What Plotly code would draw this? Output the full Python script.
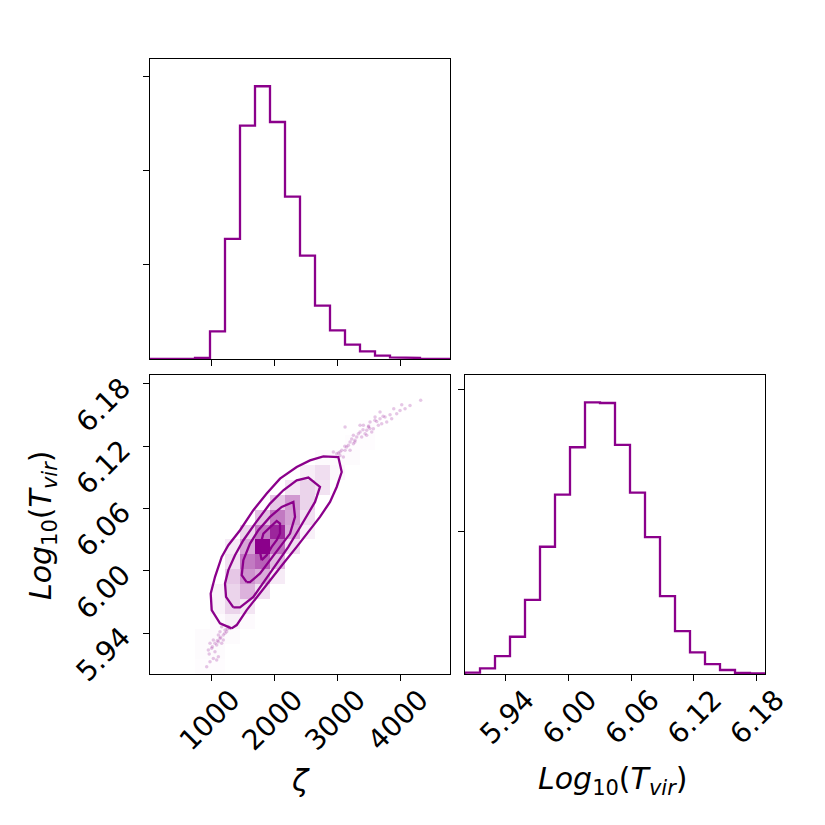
import numpy as np
import plotly.graph_objects as go

# ---------------- data ----------------
ZETA_RANGE = [17, 4796]
TVIR_RANGE = [5.9007, 6.1886]
N_BINS = 20

ZETA_COUNTS = [0, 0, 0, 11, 294, 1277, 2482, 2901, 2521, 1727,
               1099, 567, 305, 152, 82, 35, 18, 11, 4, 1]
TVIR_COUNTS = [9, 40, 126, 262, 522, 895, 1262, 1595, 1911, 1906,
               1611, 1276, 963, 548, 302, 152, 70, 28, 7, 5]

ZETA_TICKS = [1000, 2000, 3000, 4000]
TVIR_TICKS = [5.94, 6.00, 6.06, 6.12, 6.18]
ZETA_COUNT_TICKS = [1000, 2000, 3000]
TVIR_COUNT_TICKS = [1000, 2000]
ZETA_COUNT_MAX = 3191
TVIR_COUNT_MAX = 2103

# 2D density cells: (zeta bin, tvir bin, relative density)
DENSITY_CELLS = [
    (3, 0, 0.012), (4, 0, 0.012), (3, 1, 0.015), (4, 1, 0.015), (3, 2, 0.015),
    (4, 2, 0.02), (5, 2, 0.015), (4, 3, 0.02), (5, 3, 0.06), (6, 3, 0.02),
    (4, 4, 0.05), (5, 4, 0.17), (6, 4, 0.10),
    (4, 5, 0.05), (5, 5, 0.17), (6, 5, 0.30), (7, 5, 0.12),
    (5, 6, 0.22), (6, 6, 0.42), (7, 6, 0.32), (8, 6, 0.08),
    (5, 7, 0.12), (6, 7, 0.52), (7, 7, 0.62), (8, 7, 0.27),
    (5, 8, 0.08), (6, 8, 0.35), (7, 8, 1.00), (8, 8, 0.55), (9, 8, 0.12),
    (6, 9, 0.17), (7, 9, 0.52), (8, 9, 0.85), (9, 9, 0.32), (10, 9, 0.06),
    (7, 10, 0.24), (8, 10, 0.52), (9, 10, 0.37), (10, 10, 0.12),
    (8, 11, 0.22), (9, 11, 0.40), (10, 11, 0.17),
    (9, 12, 0.10), (10, 12, 0.17), (11, 12, 0.11),
    (10, 13, 0.07), (11, 13, 0.13), (12, 13, 0.03),
    (11, 14, 0.02), (12, 14, 0.02), (13, 14, 0.015),
    (13, 15, 0.012), (14, 15, 0.01), (14, 16, 0.01),
]

# contour lines (zeta, log10 Tvir), outermost first
C4_ZETA = [1318, 1132, 1000, 984, 1053, 1159, 1265, 1451, 1663, 1876, 2088, 2354,
           2566, 2779, 3017, 3071, 2991, 2885, 2725, 2566, 2354, 2141, 1929, 1717,
           1557, 1398, 1318]
C4_TVIR = [5.9446, 5.9494, 5.9622, 5.9782, 5.9943, 6.0135, 6.0247, 6.0391, 6.0584,
           6.0744, 6.0888, 6.1000, 6.1064, 6.1103, 6.1096, 6.0952, 6.0808, 6.0664,
           6.0520, 6.0391, 6.0231, 6.0071, 5.9911, 5.9750, 5.9622, 5.9478, 5.9446]
C3_ZETA = [1345, 1228, 1212, 1265, 1371, 1504, 1690, 1929, 2141, 2354, 2540, 2725,
           2646, 2540, 2380, 2221, 2035, 1849, 1663, 1451, 1345]
C3_TVIR = [5.9648, 5.9750, 5.9879, 6.0007, 6.0151, 6.0295, 6.0455, 6.0648, 6.0776,
           6.0872, 6.0898, 6.0808, 6.0664, 6.0552, 6.0391, 6.0231, 6.0071, 5.9911,
           5.9750, 5.9648, 5.9648]
C2_ZETA = [1557, 1478, 1504, 1610, 1743, 1929, 2115, 2301, 2327, 2248, 2088, 1929,
           1770, 1610, 1557]
C2_TVIR = [5.9891, 5.9959, 6.0103, 6.0263, 6.0391, 6.0520, 6.0616, 6.0664, 6.0520,
           6.0359, 6.0231, 6.0103, 5.9975, 5.9891, 5.9891]
C1_ZETA = [1796, 1759, 1823, 1929, 2035, 2088, 2088, 2035, 1955, 1876, 1796]
C1_TVIR = [6.0103, 6.0215, 6.0359, 6.0423, 6.0481, 6.0455, 6.0359, 6.0295, 6.0231,
           6.0151, 6.0103]

# individual samples outside the outermost contour
PTS_ZETA = [4329, 4159, 4080, 4027, 3947, 3841, 3761, 3681, 3628, 3602, 3522, 3496,
            3416, 3363, 3310, 3257, 3204, 3124, 3150, 3071, 3044, 2991, 2938, 3363,
            3469, 3549, 3708, 3788, 3283, 3204, 3097, 3443, 3389, 3257, 3177, 3124,
            3044, 3469, 3575, 3655, 3867, 4000, 3681, 3230, 3336, 3410, 3500, 3600,
            3120, 3020, 3280, 3520, 3730, 3900,
            1291, 1238, 1185, 1132, 1106, 1079, 1026, 999, 1052, 973, 1132, 1159,
            946, 1106, 1026, 973, 920, 1079, 1212, 1265, 1159, 1185, 1106, 1052,
            1250, 1210, 1140, 1090, 1010, 960]
PTS_TVIR = [6.1644, 6.1593, 6.1561, 6.1600, 6.1513, 6.1504, 6.1481, 6.1465, 6.1439,
            6.1481, 6.1433, 6.1385, 6.1401, 6.1337, 6.1289, 6.1305, 6.1241, 6.1385,
            6.1193, 6.1161, 6.1112, 6.1128, 6.1145, 6.1401, 6.1353, 6.1337, 6.1417,
            6.1433, 6.1257, 6.1161, 6.1096, 6.1321, 6.1289, 6.1225, 6.1209, 6.1161,
            6.1144, 6.1305, 6.1369, 6.1401, 6.1465, 6.1545, 6.1529, 6.1270, 6.1320,
            6.1360, 6.1395, 6.1450, 6.1200, 6.1135, 6.1240, 6.1370, 6.1490, 6.1560,
            5.9446, 5.9414, 5.9382, 5.9350, 5.9318, 5.9286, 5.9334, 5.9254, 5.9222,
            5.9302, 5.9414, 5.9302, 5.9238, 5.9174, 5.9157, 5.9125, 5.9077, 5.9142,
            5.9430, 5.9462, 5.9462, 5.9334, 5.9382, 5.9302, 5.9440, 5.9400, 5.9360,
            5.9330, 5.9270, 5.9200]

# ---------------- styling ----------------
COLOR = "#8b008b"
FONT = "DejaVu Sans"
W = H = 825


def step_path(edges, counts):
    xs = np.repeat(edges, 2)
    ys = np.concatenate([[0], np.repeat(counts, 2), [0]])
    return xs, ys


zeta_edges = np.linspace(ZETA_RANGE[0], ZETA_RANGE[1], N_BINS + 1)
tvir_edges = np.linspace(TVIR_RANGE[0], TVIR_RANGE[1], N_BINS + 1)

fig = go.Figure()

# top histogram
xs, ys = step_path(zeta_edges, ZETA_COUNTS)
fig.add_trace(go.Scatter(x=xs, y=ys, mode="lines", line=dict(color=COLOR, width=2.3),
                         xaxis="x", yaxis="y", hoverinfo="skip"))

# 2D panel: samples, density, contours
Z = np.zeros((N_BINS, N_BINS))
for ix, iy, v in DENSITY_CELLS:
    Z[iy, ix] = v
fig.add_trace(go.Heatmap(x=zeta_edges, y=tvir_edges, z=Z, zmin=0, zmax=1,
                         colorscale=[[0, "rgba(139,0,139,0)"], [1, "rgba(139,0,139,1)"]],
                         showscale=False, hoverinfo="skip", xaxis="x2", yaxis="y2"))
fig.add_trace(go.Scatter(x=PTS_ZETA, y=PTS_TVIR, mode="markers",
                         marker=dict(color=COLOR, size=3.5, opacity=0.22, line=dict(width=0)),
                         xaxis="x2", yaxis="y2", hoverinfo="skip"))
for cx, cy in [(C4_ZETA, C4_TVIR), (C3_ZETA, C3_TVIR), (C2_ZETA, C2_TVIR), (C1_ZETA, C1_TVIR)]:
    fig.add_trace(go.Scatter(x=cx, y=cy, mode="lines", line=dict(color=COLOR, width=2.3),
                             xaxis="x2", yaxis="y2", hoverinfo="skip"))

# bottom-right histogram
xs, ys = step_path(tvir_edges, TVIR_COUNTS)
fig.add_trace(go.Scatter(x=xs, y=ys, mode="lines", line=dict(color=COLOR, width=2.3),
                         xaxis="x3", yaxis="y3", hoverinfo="skip"))

col1 = [150 / W, 450 / W]
col2 = [465 / W, 765 / W]
row_top = [1 - 359 / H, 1 - 59 / H]
row_bot = [1 - 674 / H, 1 - 375 / H]

axis_common = dict(showline=True, mirror=True, linecolor="black", linewidth=1.3,
                   ticks="outside", ticklen=6, tickwidth=1.3, tickcolor="black",
                   showgrid=False, zeroline=False, automargin=False,
                   tickfont=dict(family=FONT, size=28, color="black"))

fig.update_layout(
    width=W, height=H, margin=dict(l=0, r=0, t=0, b=0),
    paper_bgcolor="white", plot_bgcolor="white", showlegend=False,
    xaxis=dict(domain=col1, anchor="y", range=ZETA_RANGE, tickvals=ZETA_TICKS,
               showticklabels=False, **axis_common),
    yaxis=dict(domain=row_top, anchor="x", range=[0, ZETA_COUNT_MAX],
               tickvals=ZETA_COUNT_TICKS, showticklabels=False, **axis_common),
    xaxis2=dict(domain=col1, anchor="y2", range=ZETA_RANGE, tickvals=ZETA_TICKS,
                tickangle=-45, ticklabelshift=20, ticklabelstandoff=-9, **axis_common),
    yaxis2=dict(domain=row_bot, anchor="x2", range=TVIR_RANGE, tickvals=TVIR_TICKS,
                tickformat=".2f", tickangle=-45, ticklabelstandoff=15, **axis_common),
    xaxis3=dict(domain=col2, anchor="y3", range=TVIR_RANGE, tickvals=TVIR_TICKS,
                tickformat=".2f", tickangle=-45, ticklabelshift=20, ticklabelstandoff=-9,
                **axis_common),
    yaxis3=dict(domain=row_bot, anchor="x3", range=[0, TVIR_COUNT_MAX],
                tickvals=TVIR_COUNT_TICKS, showticklabels=False, **axis_common),
)

title_font = dict(family=FONT, size=30, color="black")
fig.add_annotation(text="<i>ζ</i>", x=300 / W, y=1 - 780 / H, xref="paper", yref="paper",
                   showarrow=False, font=title_font, xanchor="center", yanchor="middle")
fig.add_annotation(text="<i>Log</i><sub>10</sub>(<i>T</i><sub><i>vir</i></sub>)",
                   x=613 / W, y=1 - 780 / H, xref="paper", yref="paper",
                   showarrow=False, font=title_font, xanchor="center", yanchor="middle")
fig.add_annotation(text="<i>Log</i><sub>10</sub>(<i>T</i><sub><i>vir</i></sub>)",
                   x=42 / W, y=1 - 525 / H, xref="paper", yref="paper", textangle=-90,
                   showarrow=False, font=title_font, xanchor="center", yanchor="middle")

fig.write_html("out.html")
